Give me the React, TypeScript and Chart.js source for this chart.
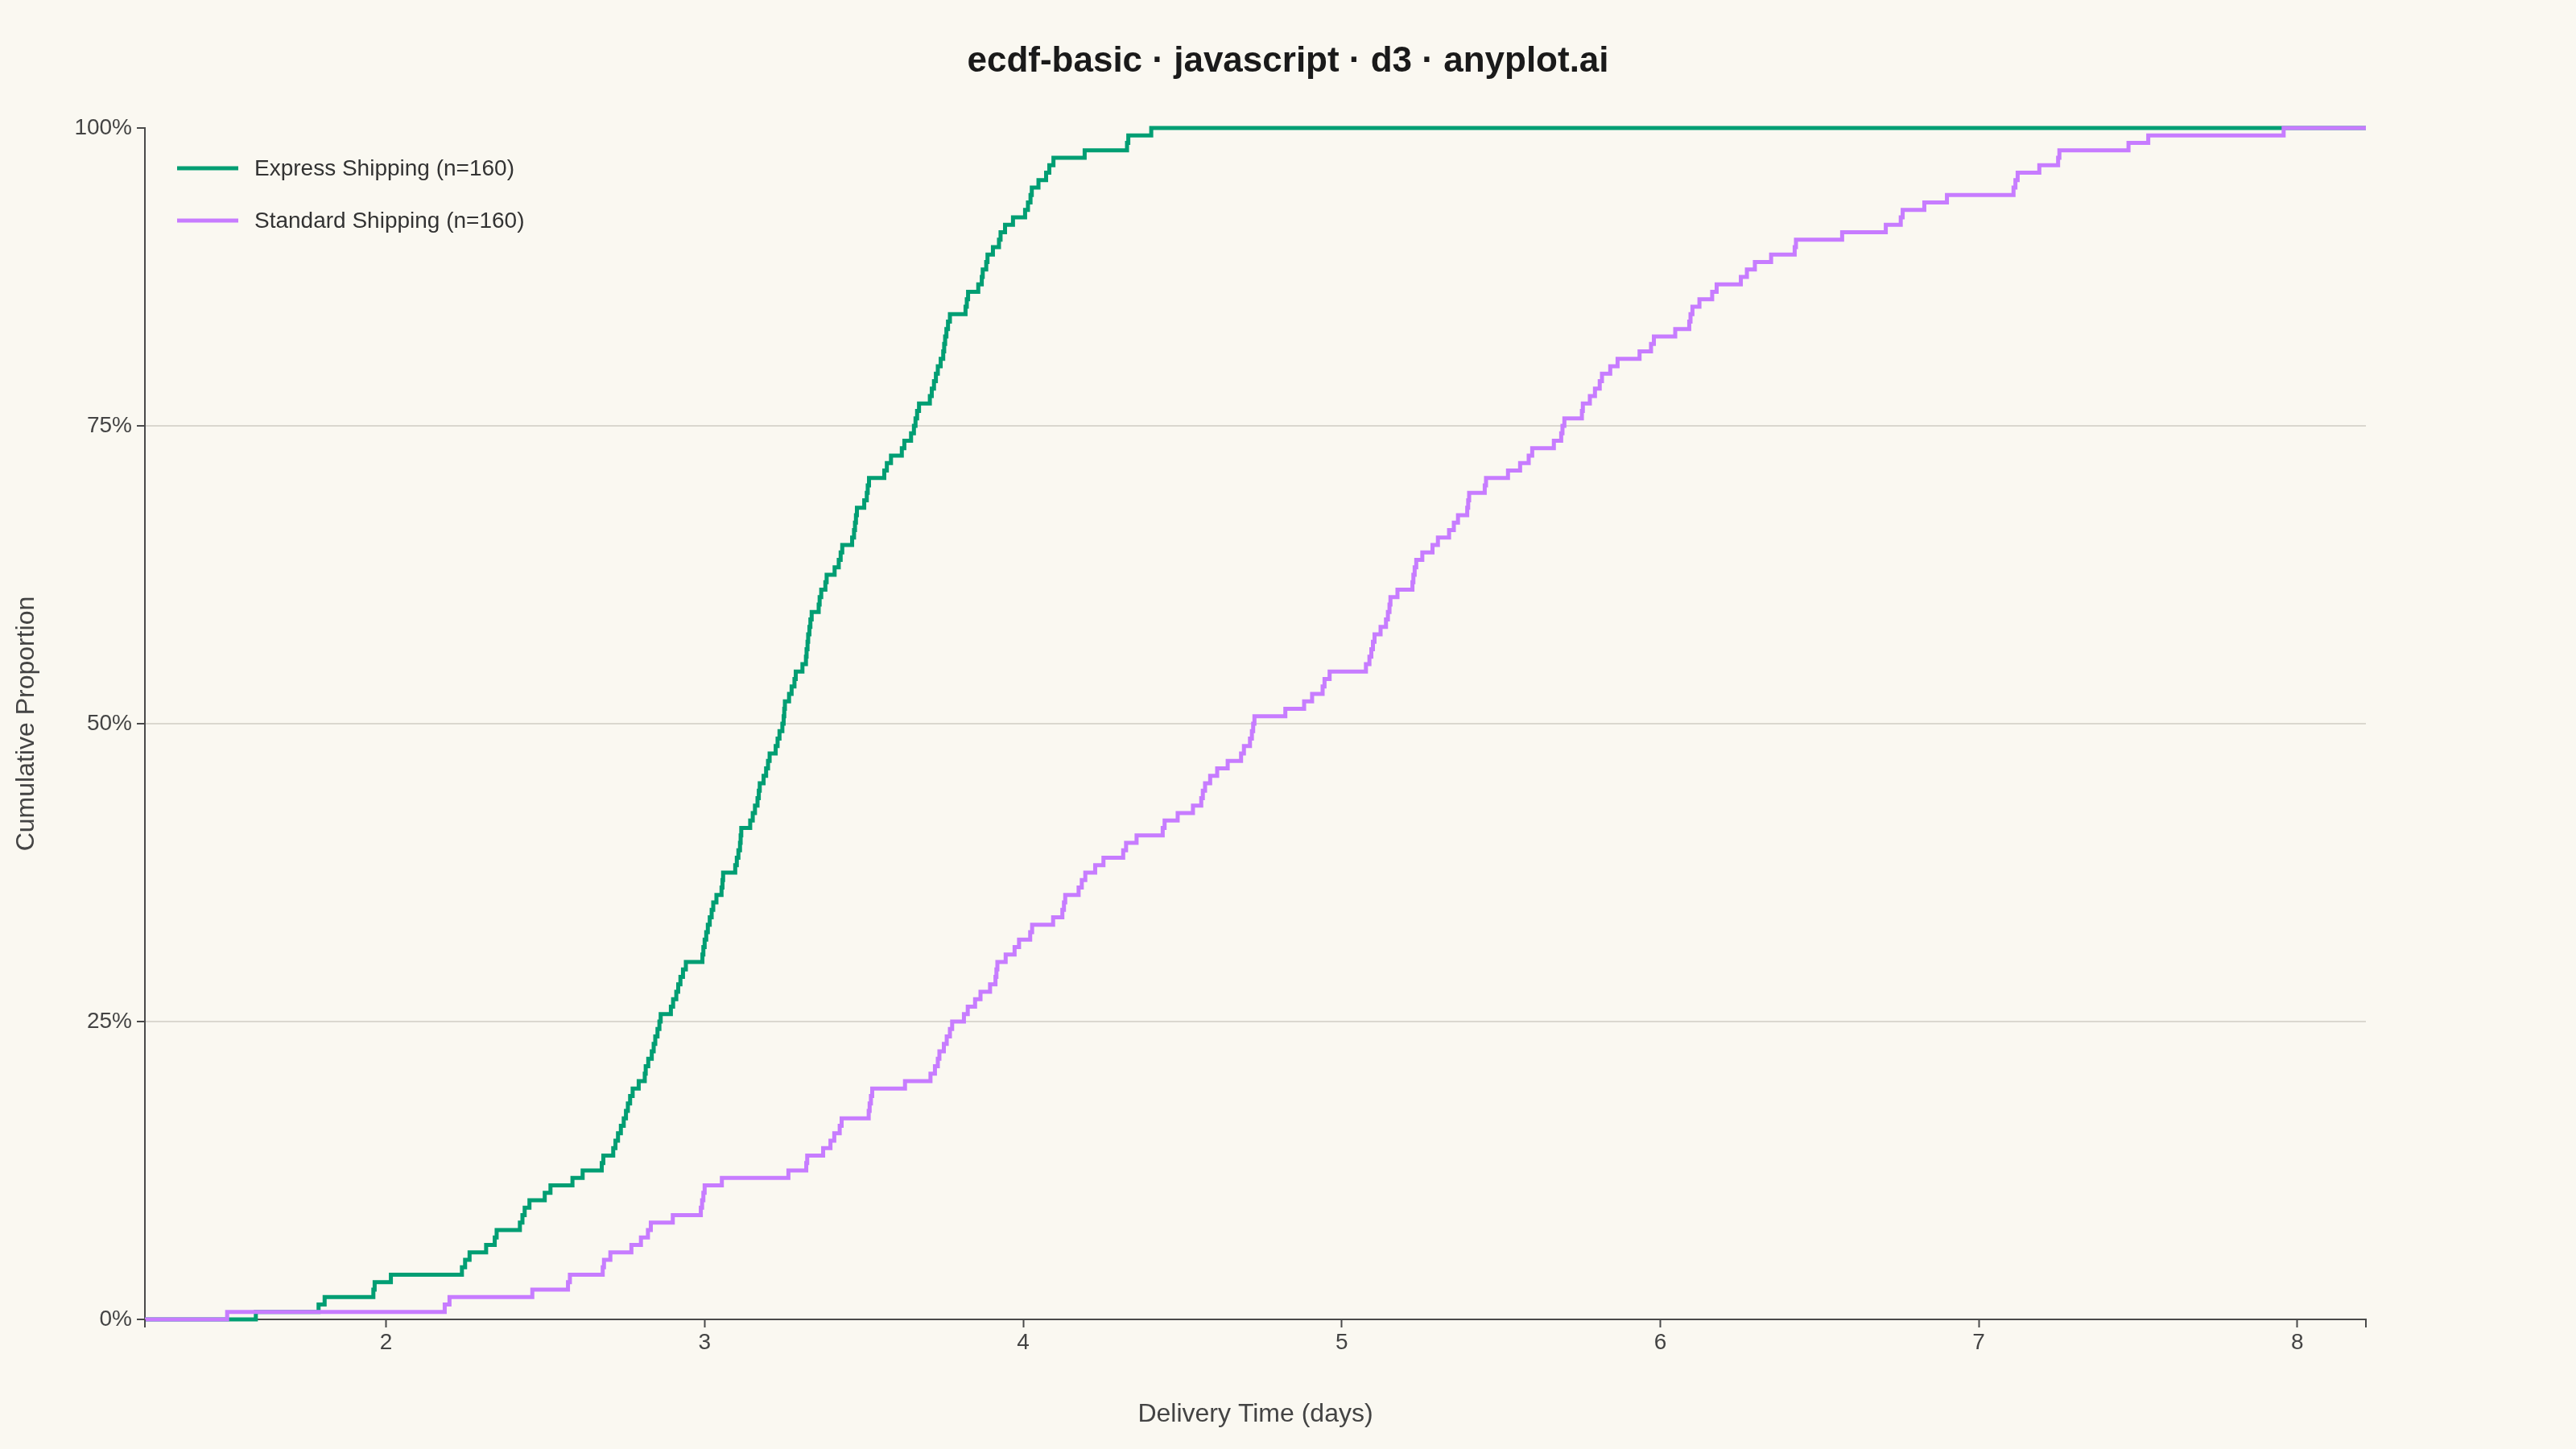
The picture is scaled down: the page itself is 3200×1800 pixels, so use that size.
import React, { useEffect, useRef } from "react";
import { Chart, registerables } from "chart.js";

Chart.register(...registerables);

const TITLE = "ecdf-basic · javascript · d3 · anyplot.ai";
const X_LABEL = "Delivery Time (days)";
const Y_LABEL = "Cumulative Proportion";
const SERIES_NAMES = ["Express Shipping (n=160)", "Standard Shipping (n=160)"];
const SERIES_COLORS = ["#009E73", "#C77CFF"];

// Sorted delivery times (days)
const expressDays = [
  1.591, 1.788, 1.807, 1.96, 1.964, 2.015, 2.238, 2.248, 2.262, 2.314,
  2.341, 2.347, 2.42, 2.428, 2.435, 2.45, 2.498, 2.516, 2.585, 2.617,
  2.677, 2.682, 2.713, 2.72, 2.728, 2.737, 2.746, 2.753, 2.759, 2.766,
  2.774, 2.793, 2.812, 2.815, 2.823, 2.834, 2.84, 2.845, 2.852, 2.858,
  2.862, 2.894, 2.901, 2.911, 2.917, 2.924, 2.932, 2.941, 2.993, 2.996,
  3.0, 3.005, 3.01, 3.016, 3.022, 3.027, 3.037, 3.053, 3.056, 3.058,
  3.096, 3.101, 3.106, 3.111, 3.113, 3.115, 3.143, 3.151, 3.158, 3.166,
  3.17, 3.173, 3.185, 3.193, 3.199, 3.204, 3.223, 3.229, 3.235, 3.244,
  3.248, 3.25, 3.252, 3.265, 3.273, 3.282, 3.286, 3.307, 3.318, 3.32,
  3.323, 3.325, 3.329, 3.332, 3.336, 3.358, 3.361, 3.366, 3.379, 3.383,
  3.408, 3.421, 3.427, 3.432, 3.463, 3.469, 3.472, 3.475, 3.478, 3.501,
  3.509, 3.512, 3.516, 3.564, 3.572, 3.585, 3.619, 3.627, 3.648, 3.657,
  3.662, 3.667, 3.673, 3.707, 3.713, 3.72, 3.726, 3.732, 3.741, 3.749,
  3.752, 3.755, 3.759, 3.764, 3.77, 3.819, 3.823, 3.827, 3.859, 3.87,
  3.873, 3.884, 3.888, 3.905, 3.924, 3.929, 3.943, 3.968, 4.006, 4.015,
  4.023, 4.027, 4.048, 4.072, 4.082, 4.095, 4.193, 4.326, 4.33, 4.402,
];

const standardDays = [
  1.501, 2.184, 2.199, 2.459, 2.571, 2.577, 2.68, 2.684, 2.704, 2.77,
  2.8, 2.822, 2.831, 2.9, 2.988, 2.992, 2.996, 3.0, 3.054, 3.263,
  3.319, 3.322, 3.372, 3.395, 3.407, 3.424, 3.43, 3.515, 3.518, 3.522,
  3.526, 3.629, 3.709, 3.723, 3.732, 3.737, 3.751, 3.76, 3.77, 3.777,
  3.814, 3.826, 3.849, 3.866, 3.896, 3.913, 3.916, 3.919, 3.945, 3.973,
  3.987, 4.022, 4.028, 4.094, 4.123, 4.128, 4.132, 4.174, 4.184, 4.195,
  4.226, 4.252, 4.314, 4.323, 4.356, 4.438, 4.444, 4.485, 4.533, 4.559,
  4.564, 4.571, 4.587, 4.609, 4.642, 4.684, 4.693, 4.712, 4.718, 4.722,
  4.726, 4.823, 4.882, 4.907, 4.94, 4.946, 4.962, 5.076, 5.087, 5.093,
  5.098, 5.103, 5.122, 5.139, 5.145, 5.15, 5.153, 5.175, 5.222, 5.225,
  5.229, 5.234, 5.253, 5.285, 5.302, 5.337, 5.352, 5.365, 5.394, 5.397,
  5.4, 5.449, 5.453, 5.522, 5.56, 5.587, 5.598, 5.666, 5.689, 5.693,
  5.699, 5.754, 5.757, 5.779, 5.795, 5.81, 5.817, 5.843, 5.866, 5.935,
  5.971, 5.98, 6.047, 6.091, 6.095, 6.101, 6.123, 6.163, 6.177, 6.253,
  6.272, 6.297, 6.348, 6.422, 6.426, 6.571, 6.708, 6.755, 6.761, 6.829,
  6.9, 7.109, 7.115, 7.122, 7.19, 7.249, 7.253, 7.47, 7.532, 7.957,
];

const xTicks = [2, 3, 4, 5, 6, 7, 8];
const yTicks = [0, 0.25, 0.5, 0.75, 1];
const yTickLabels = ["0%", "25%", "50%", "75%", "100%"];

const FONT = "'Liberation Sans', Arial, Helvetica, sans-serif";
const BG = "#FAF8F1";
const AXIS_COLOR = "#4a4a4a";
const TEXT_COLOR = "#444444";
const GRID_COLOR = "#DAD7CF";

function ecdfPoints(values: number[], xMin: number, xMax: number) {
  const sorted = [...values].sort((a, b) => a - b);
  const n = sorted.length;
  const pts = [{ x: xMin, y: 0 }];
  sorted.forEach((v, i) => pts.push({ x: v, y: (i + 1) / n }));
  pts.push({ x: xMax, y: 1 });
  return pts;
}

export default function App() {
  const canvasRef = useRef<HTMLCanvasElement | null>(null);

  useEffect(() => {
    const canvas = canvasRef.current;
    if (!canvas) return;

    const all = [...expressDays, ...standardDays];
    const lo = Math.min(...all);
    const hi = Math.max(...all);
    const pad = (hi - lo) * 0.04;
    const xMin = lo - pad;
    const xMax = hi + pad;

    const overlay = {
      id: "overlay",
      beforeDraw(chart: any) {
        const c = chart.ctx;
        c.save();
        c.fillStyle = BG;
        c.fillRect(0, 0, chart.width, chart.height);
        c.restore();
      },
      afterDraw(chart: any) {
        const c = chart.ctx;
        const { left, right, top, bottom } = chart.chartArea;
        c.save();
        // Title
        c.fillStyle = "#1a1a1a";
        c.font = `bold 44px ${FONT}`;
        c.textAlign = "center";
        c.textBaseline = "middle";
        c.fillText(TITLE, chart.width / 2, 77);
        // Axis titles
        c.fillStyle = TEXT_COLOR;
        c.font = `32px ${FONT}`;
        c.fillText(X_LABEL, (left + right) / 2, bottom + 118);
        c.save();
        c.translate(33, (top + bottom) / 2);
        c.rotate(-Math.PI / 2);
        c.fillText(Y_LABEL, 0, 0);
        c.restore();
        // Outer domain ticks (d3 style)
        c.strokeStyle = AXIS_COLOR;
        c.lineWidth = 2;
        c.beginPath();
        c.moveTo(left, bottom);
        c.lineTo(left, bottom + 10);
        c.moveTo(right, bottom);
        c.lineTo(right, bottom + 10);
        c.moveTo(left - 10, top);
        c.lineTo(left, top);
        c.stroke();
        // Legend
        c.font = `28px ${FONT}`;
        c.textAlign = "left";
        c.textBaseline = "middle";
        SERIES_NAMES.forEach((name, i) => {
          const y = top + 50 + i * 65;
          c.strokeStyle = SERIES_COLORS[i];
          c.lineWidth = 5;
          c.beginPath();
          c.moveTo(left + 40, y);
          c.lineTo(left + 116, y);
          c.stroke();
          c.fillStyle = "#333333";
          c.fillText(name, left + 136, y + 1);
        });
        c.restore();
      },
    };

    const chart = new Chart(canvas, {
      type: "line",
      data: {
        datasets: [
          {
            label: SERIES_NAMES[0],
            data: ecdfPoints(expressDays, xMin, xMax),
            borderColor: SERIES_COLORS[0],
            borderWidth: 5,
            pointRadius: 0,
            stepped: "before",
            fill: false,
            order: 2,
            clip: false,
            borderJoinStyle: "miter",
            borderCapStyle: "butt",
          },
          {
            label: SERIES_NAMES[1],
            data: ecdfPoints(standardDays, xMin, xMax),
            borderColor: SERIES_COLORS[1],
            borderWidth: 5,
            pointRadius: 0,
            stepped: "before",
            fill: false,
            order: 1,
            clip: false,
            borderJoinStyle: "miter",
            borderCapStyle: "butt",
          },
        ],
      },
      options: {
        responsive: false,
        animation: false,
        devicePixelRatio: 1,
        parsing: false as any,
        layout: { padding: { top: 159, right: 261, left: 0, bottom: 0 } },
        plugins: {
          legend: { display: false },
          title: { display: false },
          tooltip: { enabled: false },
        },
        scales: {
          x: {
            type: "linear",
            min: xMin,
            max: xMax,
            afterFit: (s: any) => {
              s.height = 161;
            },
            afterBuildTicks: (s: any) => {
              s.ticks = xTicks.map((v) => ({ value: v }));
            },
            grid: {
              drawOnChartArea: false,
              drawTicks: true,
              tickLength: 10,
              tickColor: AXIS_COLOR,
              tickWidth: 2,
            },
            border: { display: true, color: AXIS_COLOR, width: 2 },
            ticks: {
              color: TEXT_COLOR,
              font: { family: FONT, size: 28 },
              padding: 2,
              maxRotation: 0,
              autoSkip: false,
              callback: (v: any) => String(v),
            },
          },
          y: {
            type: "linear",
            min: 0,
            max: 1,
            afterFit: (s: any) => {
              s.width = 180;
            },
            afterBuildTicks: (s: any) => {
              s.ticks = yTicks.map((v) => ({ value: v }));
            },
            grid: {
              color: (ctx: any) =>
                ctx.tick && ctx.tick.value > 0 && ctx.tick.value < 1 ? GRID_COLOR : "rgba(0,0,0,0)",
              lineWidth: 2,
              drawTicks: true,
              tickLength: 10,
              tickColor: AXIS_COLOR,
              tickWidth: 2,
            },
            border: { display: true, color: AXIS_COLOR, width: 2 },
            ticks: {
              color: TEXT_COLOR,
              font: { family: FONT, size: 28 },
              padding: 6,
              autoSkip: false,
              callback: (v: any) => {
                const idx = yTicks.indexOf(Number(v));
                return idx >= 0 ? yTickLabels[idx] : "";
              },
            },
          },
        },
      },
      plugins: [overlay],
    } as any);

    return () => chart.destroy();
  }, []);

  return (
    <div style={{ position: "fixed", left: 0, top: 0, width: 3200, height: 1800, background: BG }}>
      <canvas
        ref={canvasRef}
        width={3200}
        height={1800}
        style={{ display: "block", width: 3200, height: 1800 }}
      />
    </div>
  );
}
